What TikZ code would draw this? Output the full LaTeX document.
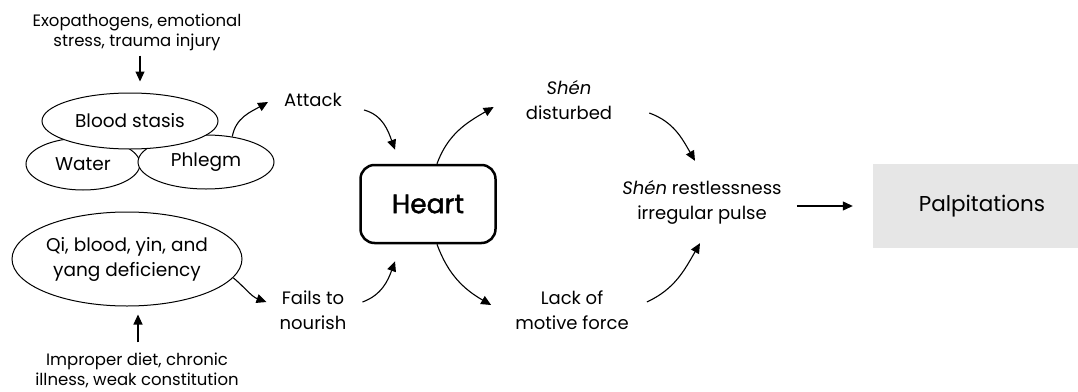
\documentclass[tikz,border=0pt]{standalone}
\usepackage{fontspec}
\setmainfont{Poppins}
\newfontfamily\heartfont[FakeBold=1.6]{Poppins}
\usetikzlibrary{arrows.meta,shapes.geometric}
\definecolor{palp}{HTML}{E6E6E6}
\begin{document}
\begin{tikzpicture}[x=1pt,y=1pt,
  lbl/.style={font=\fontsize{16.5}{20}\selectfont, align=center, inner sep=0pt},
  lblb/.style={font=\fontsize{18}{25}\selectfont, align=center, inner sep=0pt},
  ell/.style={ellipse, draw, line width=1pt, fill=white, font=\fontsize{18.5}{25}\selectfont, inner sep=0pt, align=center},
  arr/.style={line width=1.1pt, -{Triangle[length=10pt,width=9pt]}},
]
\useasboundingbox (0,0) rectangle (1078,-391);

% left column
\node[lbl] (exo) at (137,-32) {Exopathogens, emotional\\stress, trauma injury};
\node[ell, minimum width=114pt, minimum height=52pt] (water) at (83,-164) {Water};
\node[ell, minimum width=136pt, minimum height=54pt] (phlegm) at (206,-162) {Phlegm};
\node[ell, minimum width=176pt, minimum height=56pt] (blood) at (130,-121) {Blood stasis};
\node[ell, minimum width=230pt, minimum height=94pt] (qi) at (127,-259) {Qi, blood, yin, and\\yang deficiency};
\node[lbl] (improper) at (137,-370) {Improper diet, chronic\\illness, weak constitution};

% middle
\node[lblb] (attack) at (313,-100) {Attack};
\node[lblb] (fails) at (313,-310) {Fails to\\nourish};
\node[draw, line width=2.5pt, rounded corners=14pt, minimum width=135pt, minimum height=78pt,
      font=\heartfont\fontsize{26.5}{30}\selectfont] (heart) at (428,-204) {Heart};
\node[lblb] (shen) at (569,-100) {\textit{Shén}\\disturbed};
\node[lblb] (lack) at (572,-310) {Lack of\\motive force};
\node[lblb] (restless) at (702,-202) {\textit{Shén} restlessness\\irregular pulse};
\node[fill=palp, minimum width=218pt, minimum height=84pt, inner sep=0pt,
      font=\fontsize{21.5}{26}\selectfont] (palp) at (982,-206) {Palpitations};

% connectors
\draw[arr, shorten <=5pt, shorten >=11pt] ([xshift=3pt]exo.south) -- ([xshift=3pt]exo.south |- blood.north);
\draw[arr, shorten <=10pt, shorten >=8pt] ([xshift=1pt]improper.north) -- ([xshift=1pt]improper.north |- qi.south);
\draw[arr] (phlegm.44) to[out=80,in=210] ([shift={(-16pt,-2pt)}]attack.west);
\draw[arr] ([shift={(22pt,-10pt)}]attack.east) to[out=-15,in=110] ([shift={(-33pt,14pt)}]heart.north);
\draw[arr] ([shift={(16pt,8pt)}]fails.east) to[out=20,in=-110] ([shift={(-33pt,-17pt)}]heart.south);
\draw[arr] (qi.-10) to[out=-40,in=160] ([shift={(-13pt,8pt)}]fails.west);
\draw[arr] ([xshift=9pt]heart.north) to[out=70,in=210] ([shift={(-32pt,-7pt)}]shen.west);
\draw[arr] ([shift={(37pt,-13pt)}]shen.east) to[out=-20,in=120] ([shift={(-7pt,19pt)}]restless.north);
\draw[arr] ([xshift=9pt]heart.south) to[out=-70,in=150] ([shift={(-24pt,5pt)}]lack.west);
\draw[arr] ([shift={(18pt,8pt)}]lack.east) to[out=25,in=-120] ([shift={(-2pt,-19pt)}]restless.south);
\draw[arr] ([xshift=15pt]restless.east |- palp.west) -- ([xshift=-20pt]palp.west);
\end{tikzpicture}
\end{document}
